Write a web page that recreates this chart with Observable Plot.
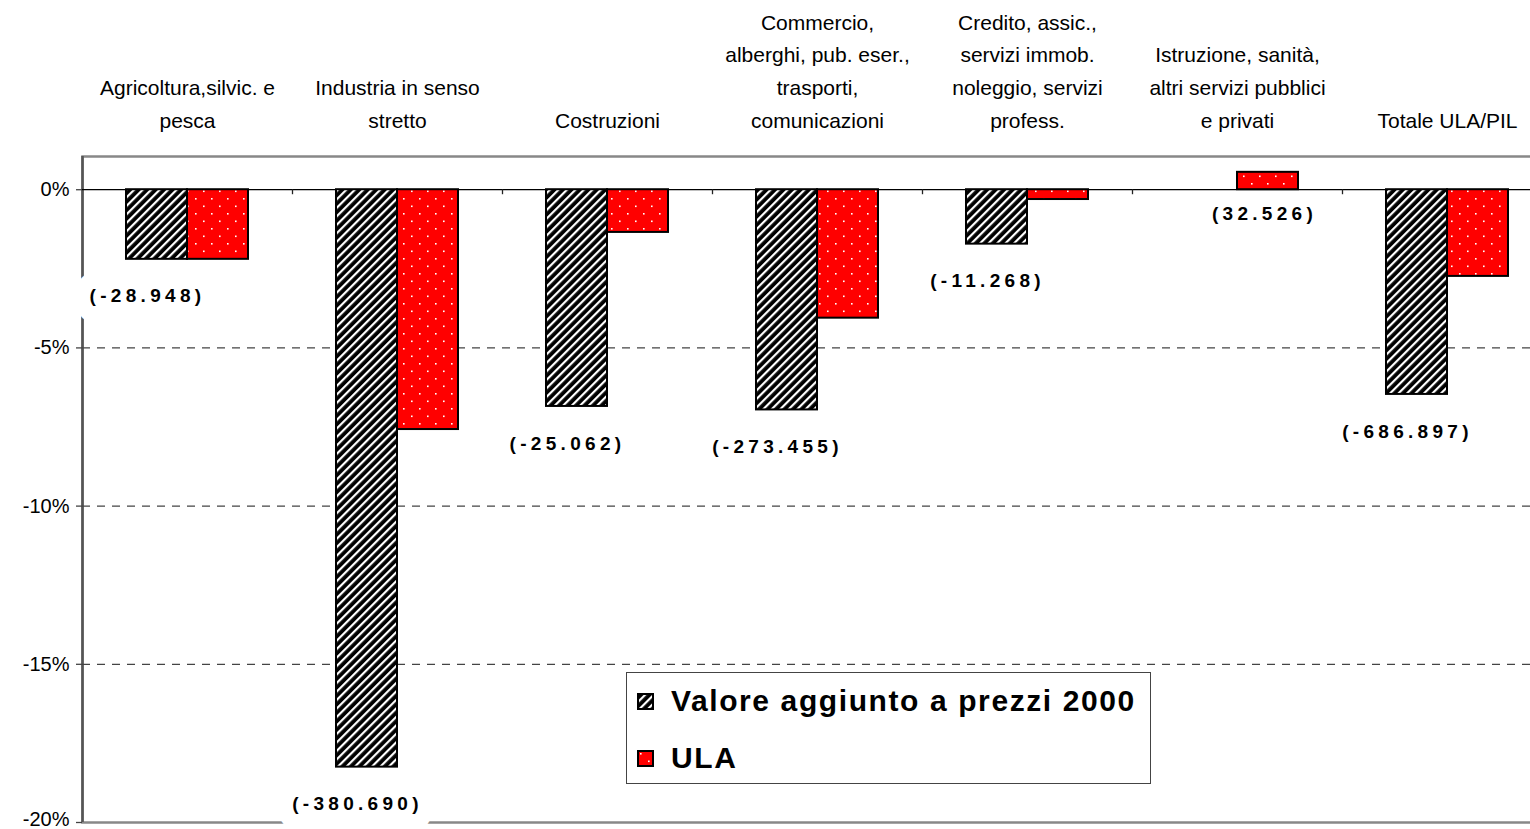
<!DOCTYPE html>
<html>
<head>
<meta charset="utf-8">
<script src="https://cdn.jsdelivr.net/npm/d3@7"></script>
<script src="https://cdn.jsdelivr.net/npm/@observablehq/plot@0.6"></script>
<style>
  html, body { margin: 0; padding: 0; background: #fff; overflow: hidden; width: 1530px; height: 829px; }
  #wrap { position: relative; width: 1530px; height: 829px; overflow: hidden; }
  #wrap svg { max-width: none; }
  g[font-weight="bold"] text { letter-spacing: 4.3px; }
  #legend { position: absolute; left: 626px; top: 672px; width: 525px; height: 112px; box-sizing: border-box;
            border: 1.5px solid #444; background: #fff;
            font-family: "Liberation Sans", Arial, sans-serif; font-weight: bold; font-size: 30px; letter-spacing: 1.6px; color: #000; }
  #legend .item { position: absolute; left: 10px; display: flex; align-items: center; height: 40px; }
  #legend .item svg { margin-right: 17px; display: block; }
</style>
</head>
<body>
<div id="wrap"></div>
<script>
// ---- data ----
const categories = ["Agricoltura", "Industria", "Costruzioni", "Commercio", "Credito", "Istruzione", "Totale"];
const categoryLabels = [
  "Agricoltura,silvic. e\npesca",
  "Industria in senso\nstretto",
  "Costruzioni",
  "Commercio,\nalberghi, pub. eser.,\ntrasporti,\ncomunicazioni",
  "Credito, assic.,\nservizi immob.\nnoleggio, servizi\nprofess.",
  "Istruzione, sanità,\naltri servizi pubblici\ne privati",
  "Totale ULA/PIL"
];
const seriesNames = ["Valore aggiunto a prezzi 2000", "ULA"];
const valoreAggiunto = [-2.2, -18.25, -6.85, -6.96, -1.72, null, -6.47];
const ula = [-2.2, -7.58, -1.35, -4.06, -0.31, 0.55, -2.74];
const absoluteChanges = [-28948, -380690, -25062, -273455, -11268, 32526, -686897];
const yTicks = [-20, -15, -10, -5, 0];
const gridTicks = [-15, -10, -5];

// ---- derived tables ----
const itLocale = d3.formatLocale({decimal: ",", thousands: ".", grouping: [3], currency: ["", " €"], minus: "-"});
const fmt = itLocale.format(",");

const rows = categories.flatMap((c, i) => [
  {category: c, series: seriesNames[0], value: valoreAggiunto[i]},
  {category: c, series: seriesNames[1], value: ula[i]}
]).filter(d => d.value != null);

const labelRows = categories.map((c, i) => {
  const v = valoreAggiunto[i] ?? 0, u = ula[i];
  const anchor = Math.abs(u) > Math.abs(v) ? seriesNames[1] : seriesNames[0];
  const av = anchor === seriesNames[0] ? v : u;
  return {category: c, anchor, positive: av > 0, y: Math.min(0, v, u), text: `(${fmt(absoluteChanges[i])})`};
});

const labelStyle = {fontSize: 19, fontWeight: "bold", fill: "black", stroke: "white", strokeWidth: 32, strokeLinejoin: "round"};

const plot = Plot.plot({
  width: 1530,
  height: 829,
  marginTop: 156,
  marginBottom: 7,
  marginLeft: 82,
  marginRight: -22,
  style: {fontFamily: "'Liberation Sans', Arial, sans-serif", fontSize: "20px", color: "black", background: "white"},
  x: {domain: categories, padding: 0, axis: null},
  y: {domain: [-20, 1.05], axis: null},
  color: {domain: seriesNames, range: ["url(#hatch)", "url(#dots)"]},
  marks: [
    Plot.frame({stroke: "#888", strokeWidth: 2.5}),
    Plot.ruleX([categories[0]], {dx: -105, stroke: "#555", strokeWidth: 2.5}),
    Plot.ruleY(gridTicks, {stroke: "#444", strokeWidth: 1.2, strokeDasharray: "8,7"}),
    Plot.ruleY([0], {stroke: "black", strokeWidth: 1.3}),
    Plot.ruleX(categories.slice(1), {x: d => d, dx: -105, y1: 0, y2: 0, insetBottom: -5, stroke: "#222", strokeWidth: 1.3}),
    Plot.barY(rows.filter(d => d.series === seriesNames[0]), {
      x: "category", y: "value", fill: "series", stroke: "black", strokeWidth: 2, insetLeft: 44, insetRight: 105
    }),
    Plot.barY(rows.filter(d => d.series === seriesNames[1]), {
      x: "category", y: "value", fill: "series", stroke: "black", strokeWidth: 2, insetLeft: 105, insetRight: 44
    }),
    Plot.text(labelRows.filter(d => d.anchor === seriesNames[0] && !d.positive), {
      x: "category", y: "y", text: "text", dx: -40, dy: 37, ...labelStyle
    }),
    Plot.text(labelRows.filter(d => d.anchor === seriesNames[1] && !d.positive), {
      x: "category", y: "y", text: "text", dx: 20, dy: 37, ...labelStyle
    }),
    Plot.text(labelRows.filter(d => d.positive), {
      x: "category", y: "y", text: "text", dx: 27, dy: 24, ...labelStyle
    }),
    Plot.text(categories, {
      x: d => d, text: (d, i) => categoryLabels[i], frameAnchor: "top", lineAnchor: "bottom",
      dy: -29, fontSize: 21, lineHeight: 1.55, fill: "black"
    }),
    Plot.axisY({ticks: yTicks, tickFormat: d => `${d}%`, tickSize: 6, tickPadding: 7, fontSize: 20, stroke: "#444", strokeWidth: 1.3, label: null, textStroke: null}),
  ]
});

// patterns
const svg = plot.tagName.toLowerCase() === "svg" ? plot : plot.querySelector("svg");
const defs = d3.select(svg).insert("defs", ":first-child");
const hatch = defs.append("pattern").attr("id", "hatch").attr("patternUnits", "userSpaceOnUse")
  .attr("width", 6).attr("height", 6).attr("patternTransform", "rotate(45)");
hatch.append("rect").attr("width", 6).attr("height", 6).attr("fill", "black");
hatch.append("rect").attr("width", 2.2).attr("height", 6).attr("fill", "white");
const dots = defs.append("pattern").attr("id", "dots").attr("patternUnits", "userSpaceOnUse")
  .attr("width", 16).attr("height", 15);
dots.append("rect").attr("width", 16).attr("height", 15).attr("fill", "#ff0000");
dots.append("rect").attr("x", 3).attr("y", 3).attr("width", 1.6).attr("height", 1.6).attr("fill", "white");
dots.append("rect").attr("x", 11).attr("y", 10.5).attr("width", 1.6).attr("height", 1.6).attr("fill", "white");

// keep the lowest tick label inside the picture
d3.select(svg).selectAll("text").filter(function() { return this.textContent === "-20%"; })
  .attr("transform", function() { return (this.getAttribute("transform") || "") + " translate(0,-3)"; });

const wrap = document.getElementById("wrap");
wrap.appendChild(plot);

// legend
const color = plot.scale("color");
const legend = d3.select(wrap).append("div").attr("id", "legend");
seriesNames.forEach((name, i) => {
  const item = legend.append("div").attr("class", "item").style("top", `${i === 0 ? 8 : 65}px`);
  const sw = item.append("svg").attr("width", 17).attr("height", 17);
  sw.append("rect").attr("x", 1).attr("y", 1).attr("width", 15).attr("height", 15)
    .attr("fill", color.apply(name)).attr("stroke", "black").attr("stroke-width", 2);
  item.append("span").text(name);
});
</script>
</body>
</html>
